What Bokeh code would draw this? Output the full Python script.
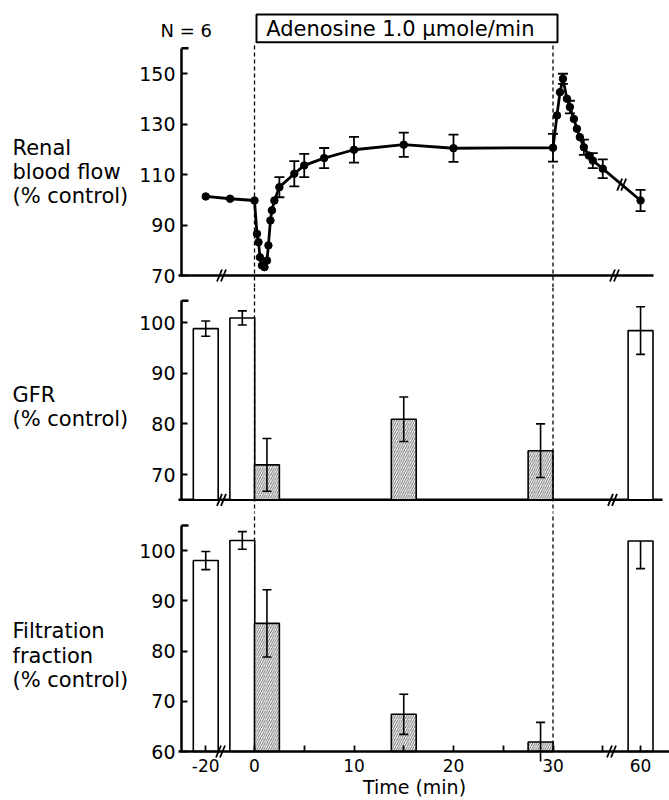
import numpy as np
from bokeh.plotting import figure
from bokeh.layouts import column
from bokeh.models import Range1d, Span, Label, FixedTicker, BoxAnnotation
from bokeh.embed import file_html
from bokeh.resources import INLINE

# ---------------- data ----------------
# Renal blood flow (% control), time in min
rbf_time = [-20, -10, 0, 0.25, 0.4, 0.55, 0.75, 1.0, 1.25, 1.4, 1.6, 1.75, 2.0,
            2.5, 4, 5, 7, 10, 15, 20, 30,
            30.4, 30.7, 31, 31.4, 31.7, 32.1, 32.4, 32.7, 33.1, 33.6, 34, 35, 60]
rbf_mean = [101.3, 100.4, 99.7, 86.5, 83.2, 77.2, 74.0, 73.3, 75.9, 81.9, 91.8, 95.8, 99.7,
            105.0, 110.3, 113.6, 116.5, 119.8, 121.8, 120.4, 120.6,
            133.4, 142.6, 147.9, 140.0, 136.7, 132.0, 128.1, 124.8, 120.8, 117.5, 115.5, 112.3, 99.7]
rbf_sem = [0, 0, 0, 0, 0, 0, 0, 0, 0, 0, 0, 0, 0,
           4.0, 5.0, 4.6, 4.0, 5.1, 4.8, 5.4, 5.5,
           0, 0, 2.0, 0, 2.5, 0, 0, 0, 3.0, 0, 3.0, 3.7, 4.2]

# Bars: clearance periods
bar_time = [-20, -5, 1.25, 15, 28.75, 60]
bar_kind = ["control", "control", "adenosine", "adenosine", "adenosine", "control"]

gfr_mean = [98.8, 100.9, 71.9, 80.9, 74.7, 98.4]
gfr_sem = [1.5, 1.4, 5.2, 4.4, 5.3, 4.7]

ff_mean = [98.0, 102.0, 85.5, 67.4, 61.9, 101.9]
ff_err_up = [1.8, 1.75, 6.7, 4.0, 3.9, 0.0]
ff_err_dn = [1.8, 1.75, 6.7, 4.0, 3.9, 5.5]

x_tick_times = [-20, 0, 5, 10, 15, 20, 25, 30, 35, 60]
x_tick_labels = ["-20", "0", "", "10", "", "20", "", "30", "", "60"]

# ---------------- layout helpers ----------------
FONT = "DejaVu Sans"
W = 669
X0_PX, PX_PER_MIN = 254.0, 9.95
AXIS_PX = 181


def tx(t):
    """Broken time axis: compressed before 0 and after 36 min."""
    t = np.asarray(t, dtype=float)
    return np.where(t < 0, t * 0.245, np.where(t > 36, 36 + (t - 36) * 2.8 / 24, t))


def xpx(px):
    return (px - X0_PX) / PX_PER_MIN


def make_panel(fig_top, frame_top, frame_bot, fig_height, va, pa, vb, pb, below_axis):
    ppu = (pa - pb) / (vb - va)
    ystart = va - (frame_bot - pa) / ppu
    yend = va + (pa - frame_top) / ppu
    p = figure(width=W, height=fig_height,
               x_range=Range1d(xpx(0), xpx(W)),
               y_range=Range1d(ystart, yend),
               output_backend="svg", toolbar_location=None,
               x_axis_location="below" if below_axis else None,
               min_border_left=0, min_border_right=0,
               min_border_top=int(frame_top - fig_top),
               min_border_bottom=int(fig_top + fig_height - frame_bot))
    p.grid.visible = False
    p.outline_line_color = None
    p.background_fill_color = "white"
    p.border_fill_color = "white"

    def ypx(px):
        return va + (pa - px) / ppu
    return p, ypx, ppu, ystart


def style_y(p, ticks, lo, hi):
    ax = p.yaxis[0]
    ax.fixed_location = xpx(AXIS_PX)
    ax.ticker = FixedTicker(ticks=ticks)
    ax.bounds = (lo, hi)
    ax.axis_line_width = 2.5
    ax.major_tick_in = 6
    ax.major_tick_out = 0
    ax.major_tick_line_width = 2
    ax.minor_tick_line_color = None
    ax.major_label_text_font = FONT
    ax.major_label_text_font_size = "19px"
    ax.major_label_text_color = "black"
    ax.major_label_standoff = 6
    # small serif at top of axis
    p.segment(x0=[xpx(AXIS_PX)], y0=[hi], x1=[xpx(AXIS_PX + 7)], y1=[hi],
              line_width=2.5, color="black")


def label(p, text, px_x, y, size, align="left"):
    p.add_layout(Label(x=xpx(px_x), y=y, text=text, text_font=FONT,
                       text_font_size=size, text_align=align,
                       text_baseline="middle", text_color="black"))


def axis_break(p, x_px, yv, ppu):
    dx = 2.5 / PX_PER_MIN
    dy = 6 / ppu
    for off in (-2.0, 2.0):
        xc = xpx(x_px + off)
        p.segment(x0=[xc - dx], y0=[yv - dy], x1=[xc + dx], y1=[yv + dy],
                  line_width=1.8, color="black")


def errorbars(p, xs, lo, hi, cap_px=4.5, lw=1.6):
    cw = cap_px / PX_PER_MIN
    p.segment(x0=xs, y0=lo, x1=xs, y1=hi, line_width=lw, color="black")
    p.segment(x0=[x - cw for x in xs], y0=hi, x1=[x + cw for x in xs], y1=hi,
              line_width=lw, color="black")
    p.segment(x0=[x - cw for x in xs], y0=lo, x1=[x + cw for x in xs], y1=lo,
              line_width=lw, color="black")


def bars(p, means, base, lo_list, hi_list):
    xs = [float(v) for v in tx(bar_time)]
    ctrl = [i for i, k in enumerate(bar_kind) if k == "control"]
    aden = [i for i, k in enumerate(bar_kind) if k == "adenosine"]
    p.vbar(x=[xs[i] for i in ctrl], width=2.5, top=[means[i] for i in ctrl], bottom=base,
           fill_color="white", line_color="black", line_width=1.6)
    p.vbar(x=[xs[i] for i in aden], width=2.5, top=[means[i] for i in aden], bottom=base,
           fill_color="white", line_color="black", line_width=1.6,
           hatch_pattern="/", hatch_scale=4.5, hatch_weight=0.9, hatch_color="#555555")
    cw = 4.5 / PX_PER_MIN
    p.segment(x0=xs, y0=lo_list, x1=xs, y1=hi_list, line_width=1.6, color="black")
    idx = [i for i in range(len(xs)) if hi_list[i] > means[i]]
    p.segment(x0=[xs[i] - cw for i in idx], y0=[hi_list[i] for i in idx],
              x1=[xs[i] + cw for i in idx], y1=[hi_list[i] for i in idx],
              line_width=1.6, color="black")
    idx = [i for i in range(len(xs)) if lo_list[i] < means[i] and lo_list[i] > base]
    p.segment(x0=[xs[i] - cw for i in idx], y0=[lo_list[i] for i in idx],
              x1=[xs[i] + cw for i in idx], y1=[lo_list[i] for i in idx],
              line_width=1.6, color="black")


DASH = "4 3"

# ---------------- panel 1: renal blood flow ----------------
p1, y1, ppu1, ys1 = make_panel(0, 8, 287, 287, 70, 275, 150, 73, False)
style_y(p1, [70, 90, 110, 130, 150], 70, 160)
box_bottom = y1(41.7)
p1.add_layout(BoxAnnotation(left=xpx(256), right=xpx(557), bottom=box_bottom, top=y1(14),
                            fill_color="white", fill_alpha=1.0, line_color="black",
                            line_width=2, line_alpha=1.0))
label(p1, "Adenosine  1.0  \u00b5mole/min", (256 + 557) / 2, y1(28), "21px", "center")
label(p1, "N = 6", 160, y1(30), "18px")
label(p1, "Renal", 12, y1(147), "21px")
label(p1, "blood  flow", 12, y1(171), "21px")
label(p1, "(% control)", 12, y1(195), "21px")
p1.segment(x0=[0, 30], y0=[ys1, ys1], x1=[0, 30], y1=[box_bottom, box_bottom],
           line_width=1.3, line_dash=DASH, color="black")
# x axis line
p1.segment(x0=[xpx(178)], y0=[70], x1=[xpx(653)], y1=[70], line_width=2.5, color="black")
axis_break(p1, 221, 70, ppu1)
axis_break(p1, 614, 70, ppu1)

xs_rbf = [float(v) for v in tx(rbf_time)]
p1.line(xs_rbf, rbf_mean, line_width=2.8, color="black")
p1.scatter(xs_rbf, rbf_mean, size=7.5, color="black")
eb = [i for i, s in enumerate(rbf_sem) if s > 0]
errorbars(p1, [xs_rbf[i] for i in eb], [rbf_mean[i] - rbf_sem[i] for i in eb],
          [rbf_mean[i] + rbf_sem[i] for i in eb], cap_px=5, lw=1.8)
# break on the curve between 35 and 60 min
xm = (xs_rbf[-2] + xs_rbf[-1]) / 2
ym = (rbf_mean[-2] + rbf_mean[-1]) / 2
axis_break(p1, X0_PX + xm * PX_PER_MIN, ym, ppu1)

# ---------------- panel 2: GFR ----------------
p2, y2, ppu2, ys2 = make_panel(287, 287, 512, 225, 70, 474, 100, 322, False)
style_y(p2, [70, 80, 90, 100], 65, 104.3)
label(p2, "GFR", 12, y2(394), "21px")
label(p2, "(% control)", 12, y2(418), "21px")
for xv in (0, 30):
    p2.add_layout(Span(location=xv, dimension="height", line_dash=DASH,
                       line_width=1.3, line_color="black"))
p2.segment(x0=[xpx(178)], y0=[65], x1=[xpx(662)], y1=[65], line_width=2.5, color="black")
axis_break(p2, 221, 65, ppu2)
axis_break(p2, 612, 65, ppu2)
bars(p2, gfr_mean, 65,
     [m - s for m, s in zip(gfr_mean, gfr_sem)], [m + s for m, s in zip(gfr_mean, gfr_sem)])

# ---------------- panel 3: filtration fraction ----------------
p3, y3, ppu3, ys3 = make_panel(512, 512, 800, 288, 60, 751, 100, 550, True)
style_y(p3, [60, 70, 80, 90, 100], 60, 105)
label(p3, "Filtration", 12, y3(630), "21px")
label(p3, "fraction", 12, y3(655), "21px")
label(p3, "(% control)", 12, y3(679), "21px")
for xv in (0, 30):
    p3.segment(x0=[xv], y0=[60], x1=[xv], y1=[y3(512) + 5],
               line_width=1.3, line_dash=DASH, color="black")
bars(p3, ff_mean, 60,
     [m - s for m, s in zip(ff_mean, ff_err_dn)], [m + s for m, s in zip(ff_mean, ff_err_up)])
axis_break(p3, 220, 60, ppu3)
axis_break(p3, 611, 60, ppu3)

tick_pos = [float(v) for v in tx(x_tick_times)]
xa = p3.xaxis[0]
xa.fixed_location = 60
xa.ticker = FixedTicker(ticks=tick_pos)
xa.major_label_overrides = {tp: lab for tp, lab in zip(tick_pos, x_tick_labels)}
xa.bounds = (xpx(AXIS_PX - 3), xpx(W))
xa.axis_line_width = 2.5
xa.major_tick_in = 6
xa.major_tick_out = 0
xa.major_tick_line_width = 1.8
xa.minor_tick_line_color = None
xa.major_label_text_font = FONT
xa.major_label_text_font_size = "17px"
xa.major_label_text_color = "black"
xa.major_label_standoff = 7
label(p3, "Time  (min)", 417, y3(786), "19px", "center")

layout = column(p1, p2, p3, spacing=0)
open("out.html", "w").write(file_html(layout, INLINE))
